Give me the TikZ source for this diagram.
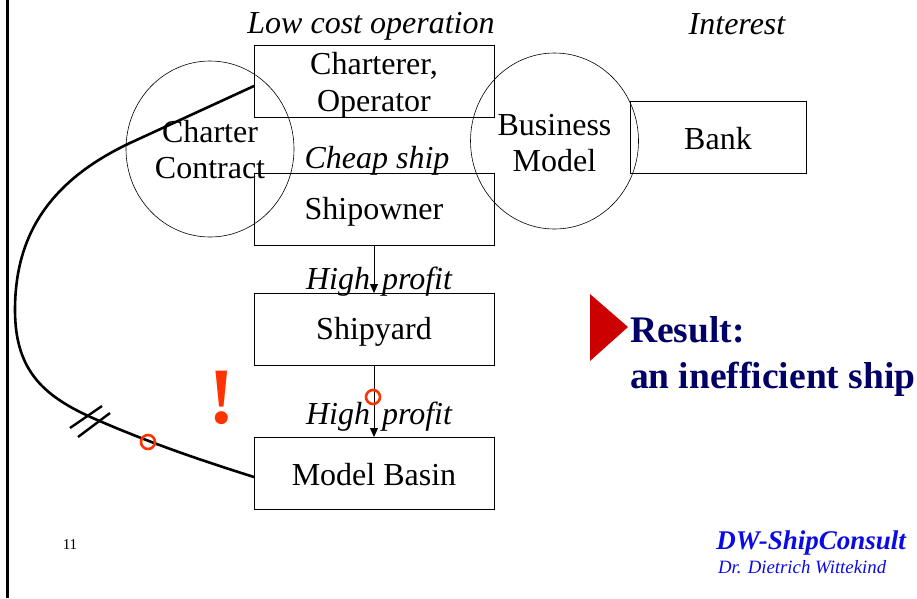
\documentclass[tikz,border=0pt]{standalone}
\usepackage{fontspec}
\setmainfont{Liberation Serif}
\usetikzlibrary{arrows.meta,shapes.geometric}
\definecolor{alarm}{HTML}{FF3300}
\definecolor{navyblue}{HTML}{000066}
\definecolor{signred}{HTML}{CC0000}
\definecolor{brandblue}{HTML}{0A0AE6}
\tikzset{
  every node/.style={inner sep=0pt, outer sep=0pt},
  party/.style={draw, line width=0.8pt, minimum width=240pt, minimum height=72pt},
  partytext/.style={align=center, font=\fontsize{32}{37}\selectfont},
  ring/.style={draw, line width=0.6pt, ellipse, minimum width=168pt, minimum height=176pt},
  ringtext/.style={align=center, font=\fontsize{32}{36}\selectfont},
  aim/.style={font=\fontsize{32}{36}\selectfont\itshape},
  flow/.style={line width=0.8pt, -{Triangle[length=9pt,width=8pt]}},
  chain/.style={line width=2.6pt, line cap=round},
  flaw/.style={draw=alarm, line width=2.6pt},
}
\begin{document}
\begin{tikzpicture}[x=1pt,y=-1pt]
\useasboundingbox (0,0) rectangle (917,598);

% left page rule
\draw[line width=2.8pt] (7.5,0) -- (7.5,598);

% rings behind boxes
\node[ring] (contract) at (210,149) {};
\node[ring] (business) at (554.5,141) {};

% parties
\node[party] (operator) at (374,81) {};
\node[party] (owner) at (374,209) {};
\node[party] (yard) at (374,329) {};
\node[party] (basin) at (374,473) {};
\node[party, minimum width=176pt] (bank) at (718,137) {};
\node[partytext] (operatortext) at ([yshift=-4pt]operator) {Charterer,\\Operator};
\node[partytext] (ownertext) at ([yshift=-3pt]owner) {Shipowner};
\node[partytext] (yardtext) at ([yshift=-3pt]yard) {Shipyard};
\node[partytext] (basintext) at ([yshift=-2pt]basin) {Model Basin};
\node[partytext] (banktext) at ([yshift=-2pt]bank) {Bank};

% ring labels
\node[ringtext] (contractlbl) at (210,150) {Charter\\Contract};
\node[ringtext] (businesslbl) at (554.5,143) {Business\\Model};

% flows of money
\draw[flow] (owner.south) -- (yard.north);
\draw[flow] (yard.south) -- (basin.north);

% aims
\node[aim] (lowcost) at (371,26) {Low cost operation};
\node[aim] (interest) at (737,24) {Interest};
\node[aim] (cheap) at (377,161) {Cheap ship};
\node[aim] (profit1) at (379,282) {High\hspace{4pt} profit};
\node[aim] (profit2) at (379,417) {High\hspace{4pt} profit};

% broken link from operator to model basin
\coordinate (bend) at (15,310);
\draw[chain] ([yshift=-5pt]operator.west) -- (130,143)
  .. controls (45,183) and (15,240) .. (bend)
  .. controls (15,372) and (45,397) .. (95,419)
  .. controls (150,443) and (200,460) .. ([yshift=-4pt]basin.west);
\coordinate (cut1a) at (70,428); \coordinate (cut1b) at (102,406);
\coordinate (cut2a) at (78,437); \coordinate (cut2b) at (110,413);
\draw[line width=2.4pt] (cut1a) -- (cut1b);
\draw[line width=2.4pt] (cut2a) -- (cut2b);

% weak points
\node[flaw, circle, minimum size=14pt] (weak1) at (148,442) {};
\node[flaw, circle, minimum size=14pt] (weak2) at (373,397) {};
\node[text=alarm, font=\fontsize{80}{80}\selectfont\bfseries] (bang) at (222,398) {!};

% result
\fill[signred] (590,294) -- (628,327) -- (590,361) -- cycle;
\node[anchor=west, align=left, text=navyblue, font=\fontsize{37.5}{46}\selectfont\bfseries] (result) at (630,356) {Result:\\an inefficient ship};

% footer
\node[font=\fontsize{15}{16}\selectfont] (page) at (70,545) {11};
\node[anchor=east, text=brandblue, font=\fontsize{27}{28}\selectfont\bfseries\itshape] (brand) at (906,543) {DW-ShipConsult};
\node[anchor=west, text=brandblue, font=\fontsize{18.8}{20}\selectfont\itshape] (author) at (718,567) {Dr. Dietrich Wittekind};
\end{tikzpicture}
\end{document}
